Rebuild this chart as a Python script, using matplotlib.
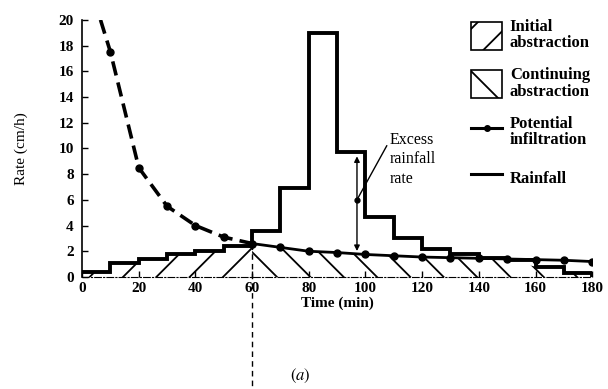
import numpy as np
import matplotlib
matplotlib.use("Agg")
from matplotlib import pyplot as plt
from matplotlib.patches import Patch
from matplotlib.lines import Line2D

# rainfall hyetograph, 10-min blocks (cm/h)
rain_edges = [0, 10, 20, 30, 40, 50, 60, 70, 80, 90, 100, 110, 120, 130, 140, 150, 160, 170, 180]
rain = [0.4, 1.1, 1.4, 1.8, 2.0, 2.4, 3.6, 6.9, 19.0, 9.7, 4.7, 3.0, 2.2, 1.8, 1.5, 1.3, 0.8, 0.3]

# potential infiltration rate (cm/h)
infil_t = [10, 20, 30, 40, 50, 60, 70, 80, 90, 100, 110, 120, 130, 140, 150, 160, 170, 180]
infil = [17.5, 8.5, 5.5, 4.0, 3.1, 2.6, 2.3, 2.0, 1.9, 1.75, 1.65, 1.55, 1.5, 1.45, 1.4, 1.35, 1.3, 1.2]
curve_start = (6.5, 20.0)
ponding_t = 60

xticks = list(range(0, 181, 20))
yticks = list(range(0, 21, 2))

plt.rcParams['font.family'] = ['Liberation Serif', 'DejaVu Serif']
plt.rcParams['mathtext.fontset'] = 'stix'
plt.rcParams['hatch.linewidth'] = 1.3

fig = plt.figure(figsize=(6.08, 3.89), dpi=100)
ax = fig.add_axes([0.135, 0.288, 0.839, 0.661])

# step arrays
sx = np.repeat(rain_edges, 2)[1:-1]
sy = np.repeat(rain, 2)
rain_at = lambda t: np.interp(t, sx, sy)

# initial abstraction: under rainfall up to ponding
m = sx <= ponding_t
ax.fill_between(sx[m], 0, sy[m], facecolor='none', edgecolor='black', hatch='/', linewidth=0)

# continuing abstraction: under min(rain, infiltration) after ponding
ti = np.array(infil_t, dtype=float)
fi = np.array(infil, dtype=float)
tt = np.unique(np.concatenate([sx[sx >= ponding_t], ti[ti >= ponding_t]]))
fcap = np.interp(tt, ti, fi)
rr = np.array([rain_at(t) for t in tt])
ax.fill_between(tt, 0, np.minimum(fcap, rr), facecolor='none', edgecolor='black', hatch='\\', linewidth=0)

# rainfall line
ax.plot(np.concatenate([sx, [rain_edges[-1]]]), np.concatenate([sy, [0]]), color='black', lw=2.8,
        solid_joinstyle='miter')

# potential infiltration: dashed before ponding, solid after
pre = ti <= ponding_t
ax.plot([curve_start[0]] + list(ti[pre]), [curve_start[1]] + list(fi[pre]), color='black', lw=2.6,
        ls=(0, (4, 2)), marker='o', markersize=5, markevery=list(range(1, pre.sum() + 1)))
post = ti >= ponding_t
ax.plot(ti[post], fi[post], color='black', lw=2.0, marker='o', markersize=5)

# ponding time marker line
ax.plot([ponding_t, ponding_t], [fi[ti == ponding_t][0], -8.8], color='black', lw=1.0,
        ls=(0, (4, 3)), clip_on=False)

# excess rainfall rate annotation
ax.annotate('', xy=(97, 9.6), xytext=(97, 1.8),
            arrowprops=dict(arrowstyle='<|-|>', color='black', lw=1.0, mutation_scale=8))
ax.plot([97], [6.0], 'o', color='black', markersize=3.5)
ax.plot([97, 107.5], [6.0, 10.2], color='black', lw=1.0)
ax.text(108.5, 11.3, 'Excess\nrainfall\nrate', fontsize=11.5, va='top', ha='left', linespacing=1.3)

ax.set_xlim(0, 180)
ax.set_ylim(0, 20)
ax.set_xticks(xticks)
ax.set_yticks(yticks)
ax.tick_params(direction='in', length=4, width=1.0, labelsize=11)
ax.tick_params(axis='y', pad=6)
for lab in ax.get_xticklabels() + ax.get_yticklabels():
    lab.set_fontweight('bold')
ax.spines['top'].set_visible(False)
ax.spines['right'].set_visible(False)
ax.spines['left'].set_linewidth(1.2)
ax.spines['bottom'].set_linewidth(0.8)
ax.spines['bottom'].set_linestyle((0, (6, 2, 1, 2)))

ax.set_xlabel('Time (min)', fontsize=11, fontweight='bold', labelpad=1)
ax.set_ylabel('Rate (cm/h)', fontsize=11, labelpad=22)

fig.text(300 / 608, 1 - 376 / 389, '$(a)$', fontsize=12, ha='center', va='center')

handles = [
    Patch(facecolor='white', edgecolor='black', hatch='/', linewidth=1.2),
    Patch(facecolor='white', edgecolor='black', hatch='\\', linewidth=1.2),
    Line2D([], [], color='black', lw=2.2, marker='o', markersize=4),
    Line2D([], [], color='black', lw=2.2),
]
labels = ['Initial\nabstraction', 'Continuing\nabstraction', 'Potential\ninfiltration', 'Rainfall']
leg = fig.legend(handles, labels, loc='upper left', bbox_to_anchor=(464 / 608, 1 - 12 / 389),
                 frameon=False, fontsize=12, handlelength=1.9, handleheight=2.2,
                 handletextpad=0.45, labelspacing=0.95, borderaxespad=0)
for t in leg.get_texts():
    t.set_fontweight('bold')
    t.set_linespacing(1.05)

fig.savefig('out.png', dpi=100)
